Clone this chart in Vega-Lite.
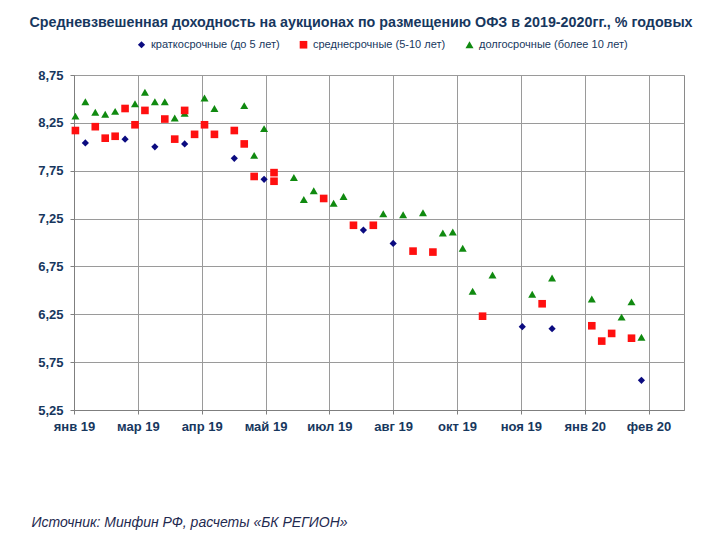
{
  "$schema": "https://vega.github.io/schema/vega-lite/v6.json",
  "autosize": "none",
  "width": 610,
  "height": 335,
  "padding": {"left": 74, "top": 75, "right": 35, "bottom": 138},
  "background": "white",
  "title": {
    "text": "Средневзвешенная доходность на аукционах по размещению ОФЗ в 2019-2020гг., % годовых",
    "anchor": "middle",
    "frame": "group",
    "dx": -18,
    "offset": 9,
    "font": "Liberation Sans",
    "fontSize": 14.3,
    "fontWeight": "bold",
    "color": "#17375E"
  },
  "config": {
    "view": {"stroke": "#8a8a8a", "strokeWidth": 1},
    "axis": {
      "gridColor": "#9a9a9a",
      "gridOpacity": 1,
      "domainColor": "#7f7f7f",
      "tickColor": "#7f7f7f",
      "labelFont": "Liberation Sans",
      "labelFontWeight": "bold",
      "labelColor": "#17375E",
      "labelFontSize": 13
    }
  },
  "data": {
    "values": [
      {"date": "2019-01-16", "type": "долгосрочные (более 10 лет)", "value": 8.32},
      {"date": "2019-01-23", "type": "долгосрочные (более 10 лет)", "value": 8.47},
      {"date": "2019-01-30", "type": "долгосрочные (более 10 лет)", "value": 8.36},
      {"date": "2019-02-06", "type": "долгосрочные (более 10 лет)", "value": 8.34},
      {"date": "2019-02-13", "type": "долгосрочные (более 10 лет)", "value": 8.37},
      {"date": "2019-02-27", "type": "долгосрочные (более 10 лет)", "value": 8.45},
      {"date": "2019-03-06", "type": "долгосрочные (более 10 лет)", "value": 8.57},
      {"date": "2019-03-13", "type": "долгосрочные (более 10 лет)", "value": 8.47},
      {"date": "2019-03-20", "type": "долгосрочные (более 10 лет)", "value": 8.47},
      {"date": "2019-03-27", "type": "долгосрочные (более 10 лет)", "value": 8.30},
      {"date": "2019-04-03", "type": "долгосрочные (более 10 лет)", "value": 8.35},
      {"date": "2019-04-17", "type": "долгосрочные (более 10 лет)", "value": 8.51},
      {"date": "2019-04-24", "type": "долгосрочные (более 10 лет)", "value": 8.40},
      {"date": "2019-05-15", "type": "долгосрочные (более 10 лет)", "value": 8.43},
      {"date": "2019-05-22", "type": "долгосрочные (более 10 лет)", "value": 7.91},
      {"date": "2019-05-29", "type": "долгосрочные (более 10 лет)", "value": 8.19},
      {"date": "2019-06-19", "type": "долгосрочные (более 10 лет)", "value": 7.68},
      {"date": "2019-06-26", "type": "долгосрочные (более 10 лет)", "value": 7.45},
      {"date": "2019-07-03", "type": "долгосрочные (более 10 лет)", "value": 7.54},
      {"date": "2019-07-17", "type": "долгосрочные (более 10 лет)", "value": 7.41},
      {"date": "2019-07-24", "type": "долгосрочные (более 10 лет)", "value": 7.48},
      {"date": "2019-08-21", "type": "долгосрочные (более 10 лет)", "value": 7.30},
      {"date": "2019-09-04", "type": "долгосрочные (более 10 лет)", "value": 7.29},
      {"date": "2019-09-18", "type": "долгосрочные (более 10 лет)", "value": 7.31},
      {"date": "2019-10-02", "type": "долгосрочные (более 10 лет)", "value": 7.10},
      {"date": "2019-10-09", "type": "долгосрочные (более 10 лет)", "value": 7.11},
      {"date": "2019-10-16", "type": "долгосрочные (более 10 лет)", "value": 6.94},
      {"date": "2019-10-23", "type": "долгосрочные (более 10 лет)", "value": 6.49},
      {"date": "2019-11-06", "type": "долгосрочные (более 10 лет)", "value": 6.66},
      {"date": "2019-12-04", "type": "долгосрочные (более 10 лет)", "value": 6.46},
      {"date": "2019-12-18", "type": "долгосрочные (более 10 лет)", "value": 6.63},
      {"date": "2020-01-15", "type": "долгосрочные (более 10 лет)", "value": 6.41},
      {"date": "2020-02-05", "type": "долгосрочные (более 10 лет)", "value": 6.22},
      {"date": "2020-02-12", "type": "долгосрочные (более 10 лет)", "value": 6.38},
      {"date": "2020-02-19", "type": "долгосрочные (более 10 лет)", "value": 6.01},
      {"date": "2019-01-16", "type": "среднесрочные (5-10 лет)", "value": 8.17},
      {"date": "2019-01-30", "type": "среднесрочные (5-10 лет)", "value": 8.21},
      {"date": "2019-02-06", "type": "среднесрочные (5-10 лет)", "value": 8.09},
      {"date": "2019-02-13", "type": "среднесрочные (5-10 лет)", "value": 8.11},
      {"date": "2019-02-20", "type": "среднесрочные (5-10 лет)", "value": 8.40},
      {"date": "2019-02-27", "type": "среднесрочные (5-10 лет)", "value": 8.23},
      {"date": "2019-03-06", "type": "среднесрочные (5-10 лет)", "value": 8.38},
      {"date": "2019-03-20", "type": "среднесрочные (5-10 лет)", "value": 8.29},
      {"date": "2019-03-27", "type": "среднесрочные (5-10 лет)", "value": 8.08},
      {"date": "2019-04-03", "type": "среднесрочные (5-10 лет)", "value": 8.38},
      {"date": "2019-04-10", "type": "среднесрочные (5-10 лет)", "value": 8.13},
      {"date": "2019-04-17", "type": "среднесрочные (5-10 лет)", "value": 8.23},
      {"date": "2019-04-24", "type": "среднесрочные (5-10 лет)", "value": 8.13},
      {"date": "2019-05-08", "type": "среднесрочные (5-10 лет)", "value": 8.17},
      {"date": "2019-05-15", "type": "среднесрочные (5-10 лет)", "value": 8.03},
      {"date": "2019-05-22", "type": "среднесрочные (5-10 лет)", "value": 7.69},
      {"date": "2019-06-05", "type": "среднесрочные (5-10 лет)", "value": 7.73},
      {"date": "2019-06-05", "type": "среднесрочные (5-10 лет)", "value": 7.64},
      {"date": "2019-07-10", "type": "среднесрочные (5-10 лет)", "value": 7.46},
      {"date": "2019-07-31", "type": "среднесрочные (5-10 лет)", "value": 7.18},
      {"date": "2019-08-14", "type": "среднесрочные (5-10 лет)", "value": 7.18},
      {"date": "2019-09-11", "type": "среднесрочные (5-10 лет)", "value": 6.91},
      {"date": "2019-09-25", "type": "среднесрочные (5-10 лет)", "value": 6.90},
      {"date": "2019-10-30", "type": "среднесрочные (5-10 лет)", "value": 6.23},
      {"date": "2019-12-11", "type": "среднесрочные (5-10 лет)", "value": 6.36},
      {"date": "2020-01-15", "type": "среднесрочные (5-10 лет)", "value": 6.13},
      {"date": "2020-01-22", "type": "среднесрочные (5-10 лет)", "value": 5.97},
      {"date": "2020-01-29", "type": "среднесрочные (5-10 лет)", "value": 6.05},
      {"date": "2020-02-12", "type": "среднесрочные (5-10 лет)", "value": 6.00},
      {"date": "2019-01-23", "type": "краткосрочные (до 5 лет)", "value": 8.04},
      {"date": "2019-02-20", "type": "краткосрочные (до 5 лет)", "value": 8.08},
      {"date": "2019-03-13", "type": "краткосрочные (до 5 лет)", "value": 8.00},
      {"date": "2019-04-03", "type": "краткосрочные (до 5 лет)", "value": 8.03},
      {"date": "2019-05-08", "type": "краткосрочные (до 5 лет)", "value": 7.88},
      {"date": "2019-05-29", "type": "краткосрочные (до 5 лет)", "value": 7.66},
      {"date": "2019-08-07", "type": "краткосрочные (до 5 лет)", "value": 7.13},
      {"date": "2019-08-28", "type": "краткосрочные (до 5 лет)", "value": 6.99},
      {"date": "2019-11-27", "type": "краткосрочные (до 5 лет)", "value": 6.12},
      {"date": "2019-12-18", "type": "краткосрочные (до 5 лет)", "value": 6.10},
      {"date": "2020-02-19", "type": "краткосрочные (до 5 лет)", "value": 5.56}
    ]
  },
  "mark": {"type": "point", "filled": true, "opacity": 1, "strokeWidth": 0},
  "encoding": {
    "x": {
      "field": "date",
      "type": "temporal",
      "scale": {
        "type": "utc",
        "domain": [
          {"year": 2019, "month": 1, "date": 15, "utc": true},
          {"year": 2020, "month": 3, "date": 20, "utc": true}
        ]
      },
      "axis": {
        "values": [
          {"year": 2019, "month": 1, "date": 15, "utc": true},
          {"year": 2019, "month": 3, "date": 1, "utc": true},
          {"year": 2019, "month": 4, "date": 15, "utc": true},
          {"year": 2019, "month": 5, "date": 30, "utc": true},
          {"year": 2019, "month": 7, "date": 14, "utc": true},
          {"year": 2019, "month": 8, "date": 28, "utc": true},
          {"year": 2019, "month": 10, "date": 12, "utc": true},
          {"year": 2019, "month": 11, "date": 26, "utc": true},
          {"year": 2020, "month": 1, "date": 10, "utc": true},
          {"year": 2020, "month": 2, "date": 24, "utc": true}
        ],
        "labelExpr": "['янв','фев','мар','апр','май','июн','июл','авг','сен','окт','ноя','дек'][utcmonth(datum.value)] + ' ' + utcFormat(datum.value, '%y')",
        "grid": true,
        "tickSize": 4,
        "labelPadding": 6,
        "labelFlush": false,
        "labelOverlap": false,
        "title": "Источник: Минфин РФ, расчеты «БК РЕГИОН»",
        "titleFont": "Liberation Sans",
        "titleFontStyle": "italic",
        "titleFontWeight": "normal",
        "titleFontSize": 14,
        "titleColor": "#1F2A50",
        "titleAnchor": "start",
        "titleAlign": "left",
        "titleBaseline": "middle",
        "titleX": -43,
        "titleY": 112
      }
    },
    "y": {
      "field": "value",
      "type": "quantitative",
      "scale": {"domain": [5.25, 8.75], "nice": false, "zero": false},
      "axis": {
        "values": [5.25, 5.75, 6.25, 6.75, 7.25, 7.75, 8.25, 8.75],
        "labelExpr": "replace(format(datum.value, '.2f'), '.', ',')",
        "grid": true,
        "tickSize": 4,
        "labelPadding": 7,
        "title": null
      }
    },
    "color": {
      "field": "type",
      "type": "nominal",
      "scale": {
        "domain": ["краткосрочные (до 5 лет)", "среднесрочные (5-10 лет)", "долгосрочные (более 10 лет)"],
        "range": ["#0B0B80", "#FF1010", "#108A10"]
      },
      "legend": {
        "title": null,
        "orient": "none",
        "direction": "horizontal",
        "legendX": 62,
        "legendY": -36,
        "symbolSize": 28,
        "labelFont": "Liberation Sans",
        "labelFontSize": 11,
        "labelColor": "#17375E",
        "labelOffset": 4,
        "columnPadding": 18
      }
    },
    "shape": {
      "field": "type",
      "type": "nominal",
      "scale": {
        "domain": ["краткосрочные (до 5 лет)", "среднесрочные (5-10 лет)", "долгосрочные (более 10 лет)"],
        "range": ["diamond", "square", "triangle-up"]
      }
    },
    "size": {
      "field": "type",
      "type": "nominal",
      "scale": {
        "domain": ["краткосрочные (до 5 лет)", "среднесрочные (5-10 лет)", "долгосрочные (более 10 лет)"],
        "range": [52, 64, 60]
      },
      "legend": null
    }
  }
}
